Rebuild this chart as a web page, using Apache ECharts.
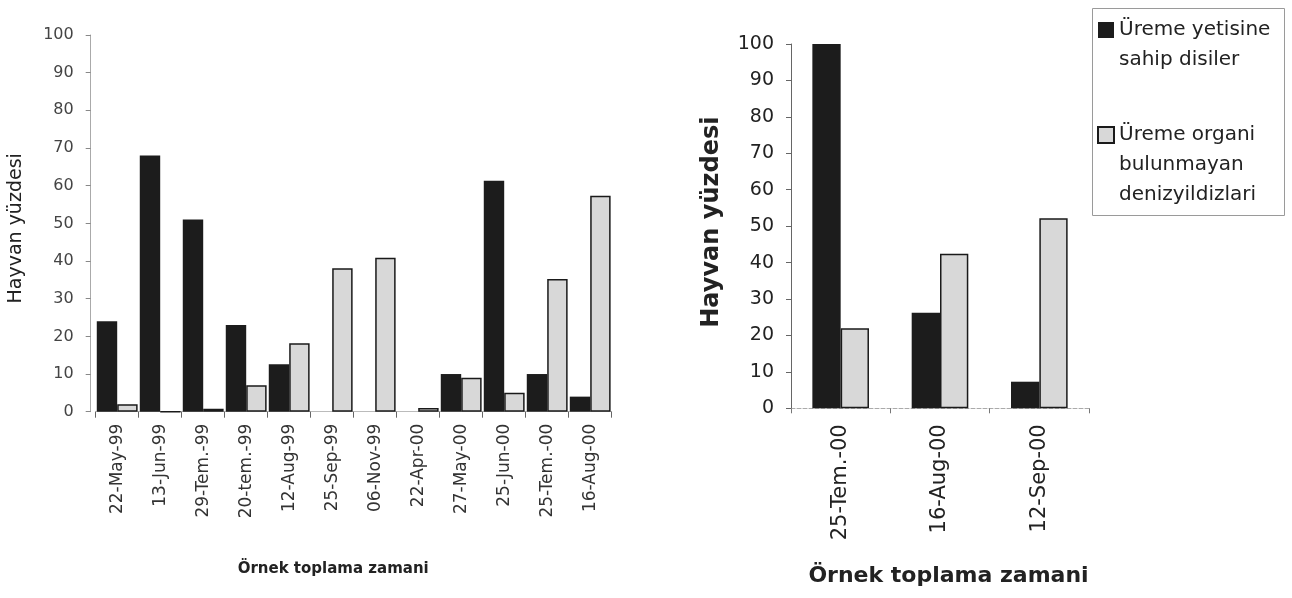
<!DOCTYPE html>
<html>
<head>
<meta charset="utf-8">
<script src="https://cdn.jsdelivr.net/npm/echarts@6/dist/echarts.min.js"></script>
<style>
html,body{margin:0;padding:0;background:#fff;}
#c{width:1292px;height:598px;}
</style>
</head>
<body>
<div id="c"></div>
<script>
// ---- data ----
const leftCategories = ['22-May-99','13-Jun-99','29-Tem.-99','20-tem.-99','12-Aug-99','25-Sep-99','06-Nov-99','22-Apr-00','27-May-00','25-Jun-00','25-Tem.-00','16-Aug-00'];
const leftMature = [24, 68, 51, 23, 12.6, 0, 0, 0, 10, 61.3, 10, 4];
const leftNoOrgan = [2, 0, 0.8, 7, 18.2, 38.1, 40.9, 1, 9, 5, 35.2, 57.3];
const rightCategories = ['25-Tem.-00','16-Aug-00','12-Sep-00'];
const rightMature = [100, 26.2, 7.3];
const rightNoOrgan = [22, 42.4, 52.2];
const seriesNames = ['Üreme yetisine sahip disiler', 'Üreme organi bulunmayan denizyildizlari'];
const legendLines = {
  'Üreme yetisine sahip disiler': ['Üreme yetisine', 'sahip disiler'],
  'Üreme organi bulunmayan denizyildizlari': ['Üreme organi', 'bulunmayan', 'denizyildizlari']
};
const yTitle = 'Hayvan yüzdesi';
const xTitle = 'Örnek toplama zamani';

const FONT = 'DejaVu Sans';
const darkStyle = { color: '#1c1c1c' };
const greyStyle = { color: '#d8d8d8', borderColor: '#1a1a1a', borderWidth: 1.5 };

const chart = echarts.init(document.getElementById('c'), null, { renderer: 'canvas' });
chart.setOption({
  backgroundColor: '#ffffff',
  animation: false,
  graphic: [{
    type: 'rect', left: 1090, top: 6, z: 0,
    shape: { width: 192, height: 207 },
    style: { fill: 'none', stroke: '#9a9a9a', lineWidth: 1 }
  }],
  legend: {
    orient: 'vertical', left: 1097, top: -15, padding: 0,
    itemGap: -15, itemWidth: 16, itemHeight: 16,
    icon: 'rect',
    data: seriesNames,
    formatter: function (name) {
      const lines = legendLines[name];
      const pad = new Array(lines.length - 1).fill('');
      return pad.concat(lines).join('\n');
    },
    textStyle: { fontFamily: FONT, fontSize: 20, lineHeight: 30, color: '#222' }
  },
  grid: [
    { left: 95.7, top: 35, width: 516, height: 376.7, containLabel: false },
    { left: 791, top: 44, width: 298, height: 364.3, containLabel: false }
  ],
  xAxis: [
    {
      type: 'category', gridIndex: 0, data: leftCategories,
      axisLine: { show: true, lineStyle: { color: '#bbb', width: 1 } },
      axisTick: { show: true, length: 6, lineStyle: { color: '#666' } },
      axisLabel: { rotate: 90, margin: 12, fontFamily: FONT, fontSize: 17, color: '#333' },
      name: xTitle, nameLocation: 'middle', nameGap: 150,
      nameTextStyle: { fontFamily: FONT, fontWeight: 'bold', fontSize: 15, color: '#222', padding: [0, 41, 0, 0] }
    },
    {
      type: 'category', gridIndex: 1, data: rightCategories,
      axisLine: { show: true, lineStyle: { color: '#aaa', width: 1, type: 'dashed' } },
      axisTick: { show: true, length: 5, lineStyle: { color: '#777' } },
      axisLabel: { rotate: 90, margin: 16, fontFamily: FONT, fontSize: 21, color: '#222' },
      name: xTitle, nameLocation: 'middle', nameGap: 157,
      nameTextStyle: { fontFamily: FONT, fontWeight: 'bold', fontSize: 22, color: '#222', padding: [0, 0, 0, 17] }
    }
  ],
  yAxis: [
    {
      type: 'value', gridIndex: 0, min: 0, max: 100, interval: 10, offset: 5,
      axisLine: { show: true, lineStyle: { color: '#aaa', width: 1 } },
      axisTick: { show: true, length: 5, lineStyle: { color: '#888' } },
      splitLine: { show: false },
      axisLabel: { margin: 17, fontFamily: FONT, fontSize: 16, color: '#444' },
      name: yTitle, nameLocation: 'middle', nameGap: 65, nameRotate: 90,
      nameTextStyle: { fontFamily: FONT, fontSize: 19, color: '#222', padding: [0, 10, 0, 0] }
    },
    {
      type: 'value', gridIndex: 1, min: 0, max: 100, interval: 10,
      axisLine: { show: true, lineStyle: { color: '#666', width: 1 } },
      axisTick: { show: true, length: 5, lineStyle: { color: '#666' } },
      splitLine: { show: false },
      axisLabel: { margin: 17, fontFamily: FONT, fontSize: 19, color: '#222' },
      name: yTitle, nameLocation: 'middle', nameGap: 67, nameRotate: 90,
      nameTextStyle: { fontFamily: FONT, fontWeight: 'bold', fontSize: 24, color: '#222', padding: [0, 0, 0, 8] }
    }
  ],
  series: [
    { name: seriesNames[0], type: 'bar', xAxisIndex: 0, yAxisIndex: 0, data: leftMature, itemStyle: darkStyle, barGap: '0%', barCategoryGap: '5%' },
    { name: seriesNames[1], type: 'bar', xAxisIndex: 0, yAxisIndex: 0, data: leftNoOrgan, itemStyle: greyStyle, barGap: '0%', barCategoryGap: '5%' },
    { name: seriesNames[0], type: 'bar', xAxisIndex: 1, yAxisIndex: 1, data: rightMature, itemStyle: darkStyle, barGap: '0%', barCategoryGap: '43%' },
    { name: seriesNames[1], type: 'bar', xAxisIndex: 1, yAxisIndex: 1, data: rightNoOrgan, itemStyle: greyStyle, barGap: '0%', barCategoryGap: '43%' }
  ]
});
</script>
</body>
</html>
